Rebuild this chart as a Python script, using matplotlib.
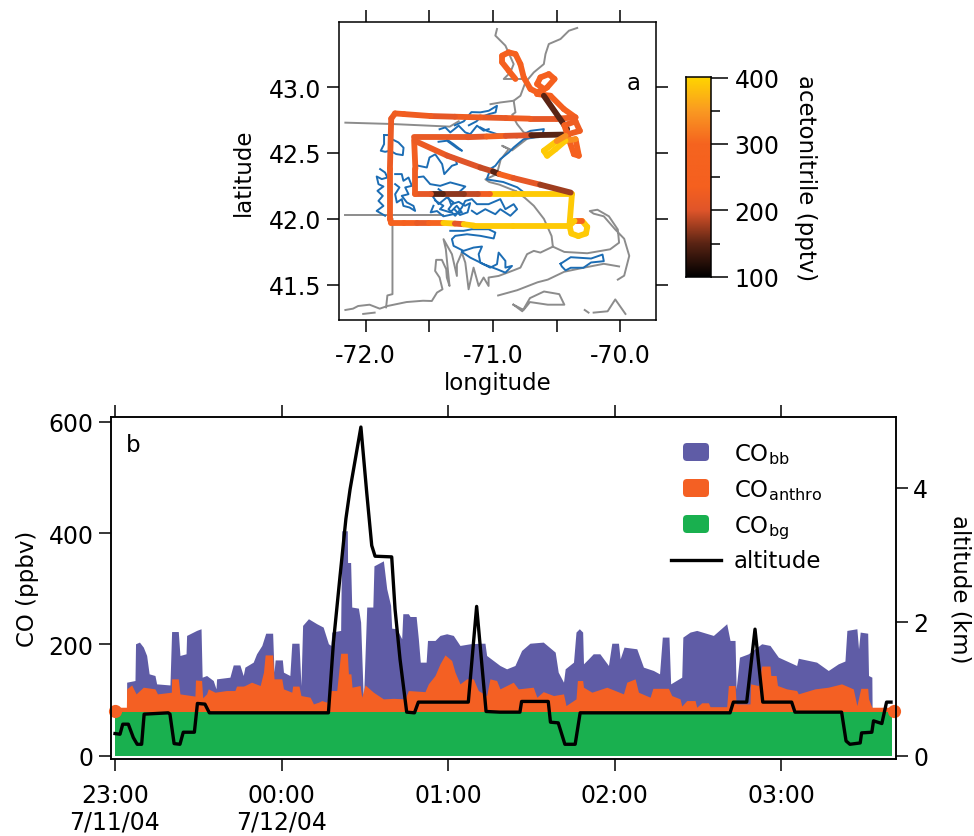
import numpy as np
import matplotlib
matplotlib.use("Agg")
import matplotlib.pyplot as plt
from matplotlib.collections import LineCollection
from matplotlib.colors import LinearSegmentedColormap
from matplotlib.patches import FancyBboxPatch
from matplotlib.transforms import IdentityTransform

plt.rcParams["font.family"] = "DejaVu Sans"
plt.rcParams["mathtext.fontset"] = "dejavusans"

# panel a, coast and state lines (lon, lat)
border_nh = [(-72.16, 42.73), (-71.80, 42.72), (-71.34, 42.70), (-71.27, 42.74)]
border_ct = [(-72.16, 42.03), (-71.82, 42.03), (-71.39, 42.03)]
border_ri = [(-71.79, 42.00), (-71.79, 41.43), (-71.83, 41.42), (-71.84, 41.33)]
coast_south = [(-72.16, 41.31), (-72.10, 41.32), (-72.06, 41.34), (-71.97, 41.35), (-71.89, 41.32), (-71.83, 41.34),
               (-71.68, 41.37), (-71.55, 41.38), (-71.481, 41.378), (-71.44, 41.442), (-71.397, 41.467),
               (-71.42, 41.556), (-71.455, 41.606), (-71.447, 41.69), (-71.402, 41.69), (-71.368, 41.619),
               (-71.363, 41.556), (-71.342, 41.492), (-71.371, 41.771), (-71.389, 41.847), (-71.323, 41.733),
               (-71.284, 41.568), (-71.284, 41.657), (-71.245, 41.745), (-71.218, 41.669), (-71.192, 41.467),
               (-71.153, 41.631), (-71.113, 41.492), (-71.074, 41.556), (-71.035, 41.492), (-71.035, 41.556),
               (-70.956, 41.568), (-70.851, 41.606), (-70.785, 41.631), (-70.733, 41.733), (-70.68, 41.758),
               (-70.628, 41.745), (-70.53, 41.79)]
coast_bay = [(-70.53, 41.79), (-70.54, 41.87), (-70.60, 42.00), (-70.68, 42.10), (-70.75, 42.16), (-70.82, 42.21)]
coast_cape = [(-70.53, 41.79), (-70.44, 41.75), (-70.26, 41.74), (-70.08, 41.77), (-70.01, 41.82),
              (-70.02, 41.92), (-70.09, 42.02), (-70.18, 42.07), (-70.24, 42.06), (-70.21, 42.04),
              (-70.13, 42.02), (-70.04, 41.92), (-69.97, 41.85), (-69.93, 41.72), (-69.97, 41.57),
              (-70.02, 41.54)]
coast_cape_south = [(-70.01, 41.64), (-70.13, 41.66), (-70.29, 41.63), (-70.44, 41.60), (-70.57, 41.54),
                    (-70.65, 41.52), (-70.81, 41.46), (-70.96, 41.42)]
vineyard = [(-70.84, 41.35), (-70.77, 41.30), (-70.71, 41.40), (-70.60, 41.45), (-70.48, 41.43),
            (-70.44, 41.35), (-70.57, 41.35), (-70.71, 41.37), (-70.76, 41.31), (-70.84, 41.35)]
nantucket = [(-70.21, 41.29), (-70.10, 41.30), (-70.04, 41.39), (-69.96, 41.28)]
islet_east = [(-70.28, 41.31), (-70.25, 41.29)]
islet_west = [(-72.02, 41.28), (-71.93, 41.29)]
coast_north = [(-70.339, 43.448), (-70.404, 43.427), (-70.47, 43.364), (-70.562, 43.326), (-70.588, 43.25),
               (-70.601, 43.174), (-70.68, 43.111), (-70.746, 43.035), (-70.785, 42.934), (-70.838, 42.896),
               (-70.824, 42.808), (-70.85, 42.79), (-70.811, 42.719), (-70.759, 42.656), (-70.68, 42.64),
               (-70.64, 42.62), (-70.73, 42.61), (-70.85, 42.52), (-70.929, 42.555), (-70.877, 42.529),
               (-70.94, 42.45), (-70.97, 42.34), (-71.06, 42.30), (-71.03, 42.28), (-70.95, 42.26), (-70.82, 42.21)]
border_me = [(-70.969, 43.44), (-70.982, 43.39), (-70.903, 43.314), (-70.838, 43.174), (-70.864, 43.111),
             (-70.916, 43.061), (-70.838, 43.061), (-70.746, 43.061)]
inlet_north = [(-70.838, 42.896), (-70.943, 42.883), (-71.02, 42.87)]

# panel a, blue outlines
blue_top = [(-71.30, 42.71), (-71.23, 42.74), (-71.17, 42.81), (-71.10, 42.808), (-71.034, 42.82), (-70.969, 42.858),
            (-70.98, 42.808), (-71.03, 42.795), (-71.10, 42.77), (-71.13, 42.74), (-71.19, 42.71)]
blue_row1 = [(-71.42, 42.68), (-71.375, 42.694), (-71.336, 42.656), (-71.27, 42.707), (-71.218, 42.656),
             (-71.179, 42.643), (-71.126, 42.707), (-71.074, 42.669), (-71.034, 42.681)]
blue_east = [(-71.10, 42.694), (-71.048, 42.668), (-70.969, 42.643), (-70.811, 42.618), (-70.706, 42.668),
             (-70.601, 42.681), (-70.614, 42.63), (-70.759, 42.605), (-70.838, 42.542), (-70.877, 42.504),
             (-70.943, 42.453), (-70.982, 42.403), (-71.02, 42.38), (-71.05, 42.30), (-70.92, 42.28),
             (-70.81, 42.24), (-70.73, 42.18)]
blue_row2 = [(-71.428, 42.585), (-71.362, 42.593), (-71.28, 42.535), (-71.244, 42.517), (-71.31, 42.567), (-71.36, 42.60)]
blue_w1 = [(-71.856, 42.636), (-71.803, 42.636), (-71.795, 42.605), (-71.743, 42.58), (-71.703, 42.54),
           (-71.709, 42.484), (-71.761, 42.492), (-71.808, 42.517), (-71.848, 42.509), (-71.882, 42.517),
           (-71.856, 42.567), (-71.856, 42.636)]
blue_w2 = [(-71.887, 42.378), (-71.848, 42.352), (-71.83, 42.314), (-71.874, 42.302), (-71.914, 42.322),
           (-71.90, 42.264), (-71.861, 42.246), (-71.908, 42.213), (-71.866, 42.175), (-71.90, 42.137),
           (-71.861, 42.099), (-71.914, 42.061), (-71.848, 42.024)]
blue_w3 = [(-71.769, 42.34), (-71.717, 42.34), (-71.704, 42.289), (-71.664, 42.314), (-71.638, 42.251),
           (-71.69, 42.239), (-71.664, 42.188), (-71.717, 42.175), (-71.677, 42.125), (-71.625, 42.099),
           (-71.612, 42.061), (-71.656, 42.087), (-71.704, 42.099), (-71.717, 42.15), (-71.756, 42.125),
           (-71.769, 42.188), (-71.735, 42.239), (-71.769, 42.264)]
blue_w4 = [(-71.585, 42.403), (-71.52, 42.39), (-71.499, 42.466), (-71.454, 42.49), (-71.40, 42.416), (-71.383, 42.34),
           (-71.323, 42.403), (-71.283, 42.416), (-71.30, 42.47), (-71.39, 42.50), (-71.43, 42.52)]
blue_w5 = [(-71.612, 42.314), (-71.546, 42.322), (-71.494, 42.264), (-71.415, 42.251), (-71.336, 42.277),
           (-71.218, 42.246), (-71.27, 42.20), (-71.375, 42.188), (-71.428, 42.226)]
blue_mid = [(-71.468, 42.163), (-71.428, 42.112), (-71.363, 42.163), (-71.31, 42.125), (-71.35, 42.074),
            (-71.297, 42.024), (-71.245, 42.087), (-71.218, 42.137), (-71.166, 42.15), (-71.127, 42.112),
            (-71.035, 42.112), (-70.943, 42.15), (-70.903, 42.074), (-70.838, 42.112), (-70.811, 42.074),
            (-70.864, 42.024), (-70.943, 42.074), (-70.982, 42.036), (-71.061, 42.074), (-71.127, 42.036),
            (-71.166, 42.062)]
blue_mid2 = [(-71.455, 42.14), (-71.39, 42.10), (-71.417, 42.074), (-71.336, 42.05), (-71.285, 42.10), (-71.245, 42.05),
             (-71.39, 42.02), (-71.44, 42.06), (-71.49, 42.05), (-71.468, 42.10)]
blue_mid3 = [(-71.35, 42.16), (-71.33, 42.11), (-71.27, 42.13), (-71.22, 42.10), (-71.18, 42.12), (-71.20, 42.05),
             (-71.26, 42.03), (-71.30, 42.07)]
blue_south = [(-71.336, 41.91), (-71.232, 41.91), (-71.166, 41.922), (-71.035, 41.922), (-70.982, 41.897),
              (-70.995, 41.852), (-71.10, 41.872), (-71.205, 41.884), (-71.297, 41.872), (-71.323, 41.847),
              (-71.31, 41.796), (-71.232, 41.758), (-71.153, 41.783), (-71.087, 41.791), (-71.113, 41.733),
              (-71.10, 41.669), (-71.022, 41.631), (-70.969, 41.657), (-70.956, 41.745), (-70.903, 41.682),
              (-70.903, 41.631), (-70.851, 41.644), (-70.903, 41.593), (-70.969, 41.619), (-71.074, 41.657),
              (-71.179, 41.707), (-71.245, 41.75)]
blue_cape = [(-70.47, 41.66), (-70.39, 41.71), (-70.23, 41.70), (-70.14, 41.73), (-70.13, 41.68),
             (-70.23, 41.67), (-70.29, 41.63), (-70.39, 41.63), (-70.43, 41.61), (-70.46, 41.64),
             (-70.47, 41.66)]

# flight track, nan starts a new piece
track_lon = [-70.824, -70.877, -70.929, -70.929, -70.877, -70.824, -70.785, -70.759, -70.706, -70.654, -70.601,
             -70.654, -70.628, -70.562, -70.517, -70.575, -70.654, -70.549, -70.444, -70.352, -70.50, -70.71,
             -70.90, -71.10, -71.30, -71.49, -71.70, -71.77, -71.80, -71.81, -71.81, -71.80, -71.70, -71.60, -71.50,
             -71.39, -71.30, -71.23, -71.15, -70.84, -70.40, -70.385, -70.33, -70.27, -70.26, -70.30, -70.36,
             -70.40, -70.40, -70.38, -70.84, -71.02, -71.12, -71.23, -71.39, -71.49, -71.61, -71.61, -71.62, np.nan,
             -70.601, -70.418, np.nan,
             -71.61, -71.36, -71.10, -71.00, -70.95, -70.84, -70.63, -70.39, np.nan,
             -71.62, -71.20, -71.05, -70.90, -70.70, -70.418, -70.318, -70.352, -70.44, -70.41, -70.365,
             -70.326, -70.352, -70.431, -70.509, -70.575, -70.601, -70.50, -70.43]
track_lat = [43.061, 43.124, 43.187, 43.238, 43.263, 43.25, 43.174, 43.073, 42.985, 42.96, 42.985,
             43.023, 43.073, 43.098, 43.061, 42.997, 42.947, 42.934, 42.833, 42.77, 42.76, 42.76,
             42.765, 42.77, 42.775, 42.78, 42.795, 42.80, 42.76, 42.38, 42.00, 41.97, 41.97, 41.97, 41.97,
             41.97, 41.965, 41.96, 41.95, 41.95, 41.95, 41.89, 41.87, 41.89, 41.94, 41.985, 41.985,
             41.95, 41.95, 42.19, 42.19, 42.19, 42.19, 42.19, 42.19, 42.19, 42.19, 42.38, 42.60, np.nan,
             42.934, 42.681, np.nan,
             42.59, 42.48, 42.39, 42.36, 42.34, 42.31, 42.26, 42.20, np.nan,
             42.62, 42.62, 42.625, 42.63, 42.635, 42.64, 42.668, 42.74, 42.71, 42.62, 42.491,
             42.479, 42.605, 42.593, 42.529, 42.479, 42.517, 42.59, 42.63]
track_val = [235, 235, 235, 235, 235, 235, 235, 235, 235, 300, 235,
             235, 235, 235, 235, 235, 235, 235, 235, 225, 210, 225,
             215, 225, 210, 225, 230, 225, 220, 225, 230, 270, 240, 215, 290,
             390, 210, 390, 390, 390, 390, 390, 390, 390, 390, 270, 390,
             390, 390, 390, 390, 230, 190, 170, 150, 210, 225, 230, 225, np.nan,
             150, 150, np.nan,
             220, 200, 190, 150, 280, 210, 175, 180, np.nan,
             215, 210, 280, 200, 150, 225, 225, 225, 235, 235, 235,
             250, 340, 390, 390, 390, 390, 340, 300]

# panel b, minutes after 23:00
bb_t = [4.2, 7.2, 7.4, 8.8, 10.2, 11.4, 12.3, 14.4, 15, 19.8, 20.4, 22.8, 23.4, 25.6, 25.8, 29.4, 31, 31.4, 33,
        35.4, 36.4, 36.6, 41.4, 42.6, 45, 46.2, 46.8, 49.8, 51, 52.9, 54.3, 56.8, 57.3, 57.7, 60.3, 60.7, 63,
        63.7, 66.3, 67, 67.6, 69.7, 72.7, 75, 76.9, 77.8, 78.1, 81.3, 81.7, 83.7, 83.8, 84.9, 85.3, 87.7, 88.5,
        89.5, 90.3, 90.7, 92.9, 93.3, 96.7, 97.9, 99.3, 99.7, 101.5, 103.3, 103.7, 105.7, 106.3, 108.5, 109.3,
        110, 112.1, 112.6, 115.3, 117.1, 119.5, 121.9, 124.3, 127.9, 131.5, 133.3, 133.9, 138.7, 141.1, 144.1,
        146.5, 149.5, 154.3, 158.6, 159.7, 161.6, 162.2, 165.2, 166.1, 167.3, 168.5, 168.8, 170.6, 172.3, 174.7,
        177.8, 179, 181.4, 182, 183.4, 188, 190.4, 194, 196.2, 197.2, 199.6, 200.2, 204.2, 204.6, 207.2, 209.6,
        215.6, 220.4, 221.6, 223.4, 223.8, 225, 228.2, 233, 236, 239, 245.6, 246.2, 252.8, 257, 260.6, 263,
        263.7, 267.3, 267.9, 268.5, 271.2, 271.5, 272.7, 272.8]
bb_top = [132, 135, 201, 204, 195, 180, 147, 144, 129, 127, 223, 223, 180, 183, 216, 225, 228, 141, 144,
          135, 120, 138, 141, 163, 163, 144, 159, 168, 183, 198, 220, 220, 150, 172, 172, 150, 144,
          202, 202, 126, 234, 246, 237, 231, 201, 198, 222, 225, 404, 404, 347, 347, 267, 265, 240,
          96, 210, 267, 267, 341, 350, 300, 270, 229, 228, 210, 255, 255, 250, 250, 210,
          168, 168, 207, 207, 216, 219, 216, 198, 201, 202, 202, 180, 162, 156, 162,
          189, 202, 204, 186, 150, 132, 156, 168, 222, 228, 222, 165, 174, 183, 183,
          162, 202, 202, 174, 195, 192, 159, 153, 147, 213, 213, 129, 141, 213, 222, 225,
          216, 237, 207, 207, 120, 177, 183, 201, 198, 177, 162, 175, 168, 153, 165, 170,
          225, 228, 192, 222, 220, 144, 141, 78]
anthro_t = [0, 4.1, 4.2, 6, 7.6, 10.2, 14.4, 15.3, 20.3, 20.4, 22.8, 23.4, 28.8, 29, 31.2, 31.6, 33, 33.6, 36,
            40.2, 43.2, 43.8, 46.2, 46.8, 49.2, 52.3, 53.5, 54.1, 56.8, 57.3, 60.1, 60.7, 63.7, 64, 66.3, 67,
            70.3, 71.5, 73.3, 74.5, 76.3, 77.7, 79.9, 81.3, 83.7, 84.1, 85, 85.4, 88.3, 88.9, 90.1, 93.1, 96.7,
            100.3, 104.5, 105.7, 111.7, 112.9, 115.3, 117.1, 118.9, 121.3, 122.5, 124.3, 126.7, 129.1, 130.9,
            133.9, 135.1, 137.5, 138.7, 143.5, 145.3, 147.1, 150.7, 152, 154.3, 158, 161.6, 162.5, 166.1, 166.6,
            168.5, 168.8, 171.8, 177.2, 183.2, 184.4, 187.4, 188.6, 192.8, 193.8, 199.4, 200.6, 203.6, 204.2,
            206, 209, 209.6, 211.4, 213.8, 214.4, 220.4, 221, 223.4, 223.8, 228.8, 229, 231.8, 233, 236, 236.3,
            238.2, 238.7, 242, 245.6, 246.2, 252.2, 257, 261.8, 266, 267.3, 268.7, 271.2, 271.5, 272.7, 280]
anthro_top = [87, 87, 120, 127, 111, 123, 120, 111, 114, 138, 138, 111, 107, 136, 135, 104, 111, 120, 114,
              117, 117, 125, 125, 126, 132, 126, 150, 181, 181, 138, 138, 120, 114, 125, 125, 108,
              105, 93, 96, 99, 96, 117, 117, 184, 184, 147, 147, 123, 126, 105, 127, 114, 102,
              103, 102, 117, 115, 129, 144, 165, 181, 171, 150, 129, 138, 138, 117,
              108, 138, 135, 120, 132, 120, 121, 123, 105, 115, 108, 111, 90, 102, 135,
              135, 123, 114, 123, 111, 132, 138, 114, 105, 121, 121, 108, 102, 89,
              99, 99, 87, 95, 95, 88, 88, 126, 126, 93, 93, 129, 126, 161, 161, 144,
              144, 126, 120, 117, 111, 120, 123, 129, 120, 90, 121, 121, 102, 87, 87]
bg_t = [0, 280]
bg_top = [78, 78]
end_t = [0, 280.5]
end_co = [81, 81]
alt_t = [0, 1.8, 2.8, 4.8, 6.6, 8, 9.6, 10.5, 19.2, 19.8, 21.3, 23.4, 24.6, 28.6, 29.7, 32.4, 34, 76.9, 78.7,
         81.1, 83.2, 84.7, 86.8, 88.6, 90.7, 92.5, 93.7, 99.7, 100.9, 102.7, 105.1, 107.9, 109.3, 127.3, 130.3,
         133.7, 138.7, 145.9, 146.5, 156.1, 156.9, 159.7, 162.1, 165.8, 167.6, 221.6, 222.8, 227.6, 230.6,
         233.4, 243.8, 245, 261.8, 263.4, 264.8, 268.5, 269, 272.7, 273.3, 276.3, 278, 279.6]
alt_km = [0.33, 0.32, 0.47, 0.47, 0.27, 0.17, 0.17, 0.62, 0.64, 0.62, 0.18, 0.17, 0.35, 0.35, 0.78, 0.77, 0.64, 0.64, 1.69,
          2.69, 3.54, 3.98, 4.48, 4.91, 3.93, 3.14, 2.98, 2.97, 2.19, 1.44, 0.65, 0.64, 0.80, 0.80, 2.23,
          0.66, 0.65, 0.65, 0.81, 0.81, 0.50, 0.49, 0.17, 0.17, 0.64, 0.64, 0.80, 0.80, 1.89,
          0.80, 0.80, 0.65, 0.65, 0.22, 0.17, 0.19, 0.34, 0.35, 0.52, 0.48, 0.80, 0.80]

hour_ticks = [0, 60, 120, 180, 240]
hour_labels = ["23:00\n7/11/04", "00:00\n7/12/04", "01:00", "02:00", "03:00"]

BLUE = "#5f5ca6"
ORANGE = "#f46023"
GREEN = "#19b04f"

cmap = LinearSegmentedColormap.from_list("aceto", [(0, "#000000"), (1 / 6, "#5a2414"), (1 / 3, "#e0552a"),
                                                   (0.45, "#f5601f"), (2 / 3, "#f5641f"), (5 / 6, "#fa9a22"),
                                                   (1, "#ffd500")])

fig = plt.figure(figsize=(9.74, 8.37), dpi=100)


def px_axes(x0, y0, x1, y1):
    return fig.add_axes([x0 / 974, 1 - y1 / 837, (x1 - x0) / 974, (y1 - y0) / 837])


# panel a
ax = px_axes(339, 23, 656, 321)
for line in [border_nh, border_ct, border_ri, coast_south, coast_bay, coast_cape, coast_cape_south, vineyard,
             nantucket, islet_east, islet_west, coast_north, border_me, inlet_north]:
    xy = np.array(line)
    ax.plot(xy[:, 0], xy[:, 1], color="#8c8c8c", lw=1.4)
for line in [blue_top, blue_row1, blue_row2, blue_east, blue_w1, blue_w2, blue_w3, blue_w4, blue_w5, blue_mid,
             blue_mid2, blue_mid3, blue_south, blue_cape]:
    xy = np.array(line)
    ax.plot(xy[:, 0], xy[:, 1], color="#1c6db4", lw=1.4)

segs = []
seg_val = []
for i in range(len(track_lon) - 1):
    if np.isnan(track_lon[i]) or np.isnan(track_lon[i + 1]):
        continue
    segs.append([(track_lon[i], track_lat[i]), (track_lon[i + 1], track_lat[i + 1])])
    seg_val.append(track_val[i])
lc = LineCollection(segs, cmap=cmap, norm=plt.Normalize(100, 400), linewidths=4.2, capstyle="round")
lc.set_array(np.array(seg_val))
ax.add_collection(lc)

ax.set_xlim(-72.21, -69.72)
ax.set_ylim(41.234, 43.493)
ax.set_xticks([-72, -71, -70])
ax.set_xticklabels(["-72.0", "-71.0", "-70.0"])
ax.set_xticks([-71.5, -70.5], minor=True)
ax.set_yticks([41.5, 42, 42.5, 43])
ax.set_yticklabels(["41.5", "42.0", "42.5", "43.0"])
ax.tick_params(which="major", direction="out", length=8.5, width=1.1, top=True, right=True, labelsize=17, pad=4)
ax.tick_params(axis="x", which="major", pad=8)
ax.tick_params(which="minor", direction="out", length=8.5, width=1.1, top=True)
ax.set_xlabel("longitude", fontsize=16.5, labelpad=3)
ax.set_ylabel("latitude", fontsize=16.5, labelpad=10)
ax.text(0.93, 0.775, "a", transform=ax.transAxes, fontsize=16.5, ha="center", va="baseline")
for s in ax.spines.values():
    s.set_linewidth(1.1)

# colorbar
cax = px_axes(686, 78, 711, 278)
grad = np.linspace(100, 400, 256).reshape(-1, 1)
cax.imshow(grad, origin="lower", aspect="auto", cmap=cmap, extent=[0, 1, 99.5, 401])
cax.set_xticks([])
cax.yaxis.tick_right()
cax.set_yticks([100, 200, 300, 400])
cax.set_yticks([150, 250, 350], minor=True)
cax.tick_params(which="major", length=12, width=1.1, labelsize=17, pad=5)
cax.tick_params(which="minor", length=6.5, width=1.1)
cax.yaxis.set_label_position("right")
cax.set_ylabel("acetonitrile (pptv)", fontsize=16.5, rotation=270, labelpad=27)
for s in cax.spines.values():
    s.set_linewidth(1.1)

# panel b
bx = px_axes(111, 418, 896, 760)
bx.fill_between(bb_t, 78, bb_top, color=BLUE, lw=0)
bx.fill_between(anthro_t, 78, anthro_top, color=ORANGE, lw=0)
bx.plot(end_t, end_co, "o", color=ORANGE, ms=9.5, mew=0, clip_on=False)
bx.fill_between(bg_t, 0, bg_top, color=GREEN, lw=0)
bx.set_xlim(-1.44, 281.4)
bx.set_ylim(-6, 608.4)
bx.set_xticks(hour_ticks)
bx.set_xticklabels(hour_labels, linespacing=1.12)
bx.set_yticks([0, 200, 400, 600])
bx.tick_params(direction="out", length=8.5, width=1.1, top=True, labelsize=17, pad=9)
bx.tick_params(axis="y", pad=4)
bx.set_ylabel("CO (ppbv)", fontsize=16.5, labelpad=7)
bx.text(0.028, 0.9, "b", transform=bx.transAxes, fontsize=16.5, ha="center", va="baseline")

rx = bx.twinx()
rx.plot(alt_t, alt_km, color="black", lw=2.4, solid_joinstyle="round")
rx.set_ylim(-0.05, 5.06)
rx.set_yticks([0, 2, 4])
rx.tick_params(direction="out", length=8.5, width=1.1, labelsize=17, pad=4)
rx.set_ylabel("altitude (km)", fontsize=16.5, rotation=270, labelpad=31)
for a in (bx, rx):
    for s in a.spines.values():
        s.set_linewidth(1.1)

# legend, placed by pixel
legend_rows = [(BLUE, r"CO$_{\mathregular{bb}}$", 453), (ORANGE, r"CO$_{\mathregular{anthro}}$", 489),
               (GREEN, r"CO$_{\mathregular{bg}}$", 525)]
for color, label, y in legend_rows:
    fig.add_artist(FancyBboxPatch((685, 837 - y - 7), 22, 14, boxstyle="round,pad=2,rounding_size=4", fc=color,
                                  ec="none", transform=IdentityTransform()))
    fig.text(734 / 974, 1 - (y + 8) / 837, label, fontsize=16.5, ha="left", va="baseline")
fig.add_artist(plt.Line2D([671, 721], [837 - 561, 837 - 561], color="black", lw=2.4, transform=IdentityTransform()))
fig.text(734 / 974, 1 - 568 / 837, "altitude", fontsize=16.5, ha="left", va="baseline")

fig.savefig("out.png", dpi=100)
